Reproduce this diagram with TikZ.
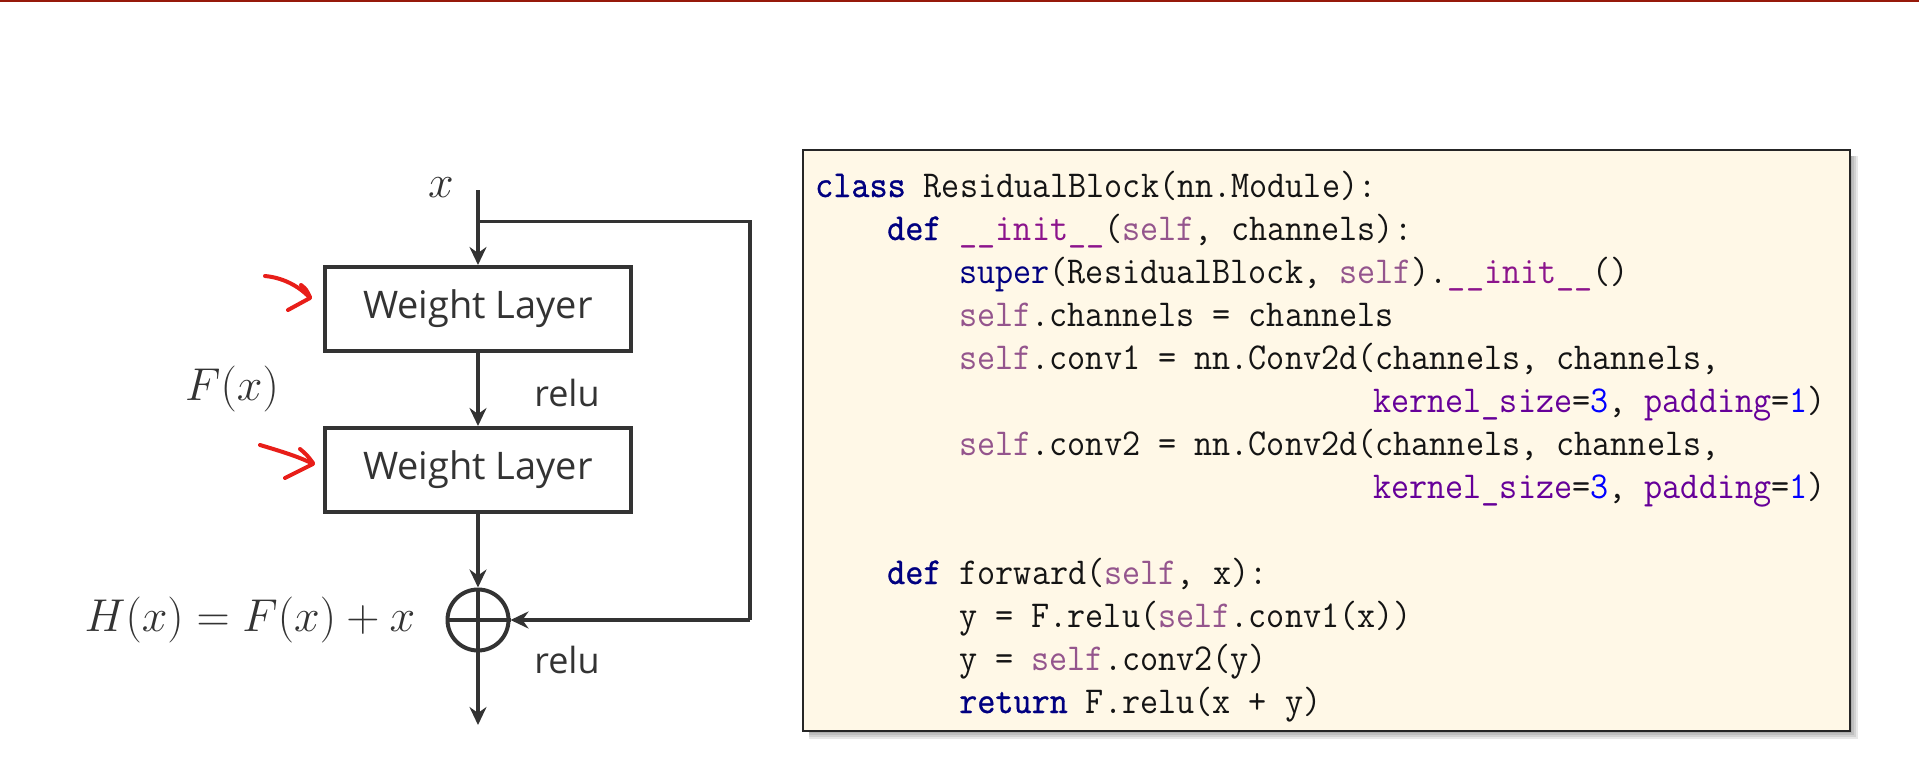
\documentclass[tikz,border=0pt]{standalone}
\usepackage{fontspec}
\newfontfamily\uifont{Open Sans}
\newfontfamily\codefont[FakeStretch=0.925]{Latin Modern Mono}
\newfontfamily\codefontb[FakeStretch=0.925,FakeBold=0.9]{Latin Modern Mono}
\usetikzlibrary{arrows.meta}
\definecolor{ckw}{RGB}{0,0,128}
\definecolor{cself}{RGB}{148,85,141}
\definecolor{cmagic}{RGB}{140,20,140}
\definecolor{carg}{RGB}{102,0,153}
\definecolor{cnum}{RGB}{0,0,255}
\definecolor{codebg}{RGB}{255,248,231}
\definecolor{ink}{RGB}{51,51,51}
\definecolor{topred}{RGB}{150,25,10}
\definecolor{pen}{RGB}{232,30,25}
\newcommand{\cKw}[1]{\textcolor{ckw}{\codefontb\fontsize{38}{42}\selectfont #1}}
\newcommand{\cBi}[1]{\textcolor{ckw}{#1}}
\newcommand{\cSelf}[1]{\textcolor{cself}{#1}}
\newcommand{\cMagic}[1]{\textcolor{cmagic}{#1}}
\newcommand{\cArg}[1]{\textcolor{carg}{#1}}
\newcommand{\cNum}[1]{\textcolor{cnum}{#1}}
\newcommand{\bigmath}[1]{\scalebox{1.85}{\Huge$#1$}}
\begin{document}
\begin{tikzpicture}[x=1pt,y=-1pt,
  conn/.style={draw=ink,line width=3.5pt},
  arr/.style={conn,-{Stealth[length=18pt,width=17pt,inset=6pt]}},
  wl/.style={draw=ink,line width=4pt,minimum width=306pt,minimum height=84pt,inner sep=0pt,
    font=\uifont\fontsize{38}{42}\selectfont,text=ink},
  txt/.style={inner sep=0pt,font=\uifont\fontsize{36}{40}\selectfont,text=ink},
  lbl/.style={inner sep=0pt,text=ink},
  sumnode/.style={circle,draw=ink,line width=4pt,minimum size=61pt,inner sep=0pt},
  redpen/.style={draw=pen,line width=4pt,line cap=round,line join=round},
  codebox/.style={draw=black!85,line width=2.5pt,fill=codebg,minimum width=1047pt,minimum height=581pt,inner sep=0pt},
  code/.style={anchor=base west,inner sep=0pt,font=\codefont\fontsize{38}{42}\selectfont,text=black!92}]
\useasboundingbox (0,0) rectangle (1919,784);
\fill[topred] (0,0) rectangle (1919,2.5);

% ---------- block diagram ----------
\node[wl] (w1) at (478,309) {Weight Layer};
\node[wl] (w2) at (478,470) {Weight Layer};
\node[sumnode] (plus) at (478,620) {};
\draw[ink,line width=4pt] (plus.north) -- (plus.south);
\draw[ink,line width=4pt] (plus.west) -- (plus.east);

\coordinate (top) at (478,190);
\coordinate (br) at (478,221.5);
\coordinate (rt) at (750,221.5);
\coordinate (rb) at (750,620);
\coordinate (out) at (478,725);

\draw[arr] (top) -- (w1.north);
\draw[conn,line join=miter] (br) -- (rt) -- (rb);
\draw[arr] (rb) -- (plus.east);
\draw[arr] (w1.south) -- (w2.north);
\draw[arr] (w2.south) -- (plus.north);
\draw[arr] (plus.south) -- (out);

\node[lbl] (xl) at (441,188) {\bigmath{x}};
\node[lbl] (fx) at (232,389) {\bigmath{F(x)}};
\node[lbl] (hx) at (250,620) {\bigmath{H(x)=F(x)+x}};
\node[txt] (r1) at (567,393) {relu};
\node[txt] (r2) at (567,660) {relu};

% red hand-drawn arrows
\draw[redpen] (265,276) .. controls (287,278) and (303,290) .. (310,298) -- (288,310);
\draw[redpen] (301,285) .. controls (306,289) .. (310,297);
\draw[redpen] (260,445) .. controls (280,451) and (300,457) .. (313,464) -- (285,478);
\draw[redpen] (300,449) .. controls (307,455) .. (313,463);

% ---------- code box ----------
\foreach \d in {2,4,6,8}
  \fill[black,opacity=0.09] (809,156) rectangle (1850+\d,731+\d);
\node[codebox] (code) at (1326.5,440.5) {};

\node[code] (l1) at (815,197) {\cKw{class} ResidualBlock(nn.Module):};
\node[code] (l2) at (887,240) {\cKw{def} \cMagic{\_\_init\_\_}(\cSelf{self}, channels):};
\node[code] (l3) at (959,283) {\cBi{super}(ResidualBlock, \cSelf{self}).\cMagic{\_\_init\_\_}()};
\node[code] (l4) at (959,326) {\cSelf{self}.channels = channels};
\node[code] (l5) at (959,369) {\cSelf{self}.conv1 = nn.Conv2d(channels, channels,};
\node[code] (l6) at (1373,412) {\cArg{kernel\_size}=\cNum{3}, \cArg{padding}=\cNum{1})};
\node[code] (l7) at (959,455) {\cSelf{self}.conv2 = nn.Conv2d(channels, channels,};
\node[code] (l8) at (1373,498) {\cArg{kernel\_size}=\cNum{3}, \cArg{padding}=\cNum{1})};
\node[code] (l9) at (887,584) {\cKw{def} forward(\cSelf{self}, x):};
\node[code] (l10) at (959,627) {y = F.relu(\cSelf{self}.conv1(x))};
\node[code] (l11) at (959,670) {y = \cSelf{self}.conv2(y)};
\node[code] (l12) at (959,713) {\cKw{return} F.relu(x + y)};
\end{tikzpicture}
\end{document}
